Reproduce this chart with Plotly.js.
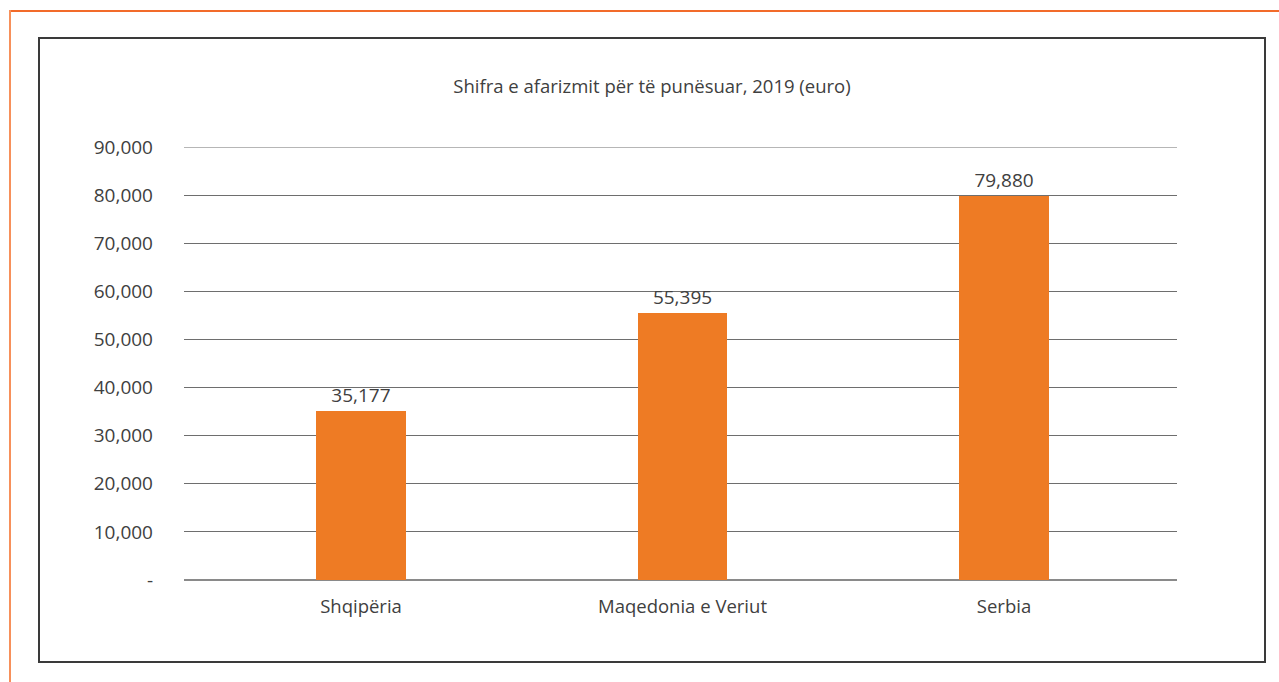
<!DOCTYPE html>
<html>
<head>
<meta charset="utf-8">
<script src="https://cdn.plot.ly/plotly-3.0.1.min.js"></script>
<style>
  html, body { margin: 0; padding: 0; background: #fff; }
  #wrap { position: relative; width: 1279px; height: 682px; overflow: hidden; }
  #chart { position: absolute; left: 0; top: 0; width: 1279px; height: 682px; }
  .ol-top { position: absolute; left: 9px; top: 10px; width: 1270px; height: 2px; background: #F26B2A; }
  .ol-left { position: absolute; left: 9px; top: 10px; width: 2px; height: 672px; background: #F7905A; }
  .box { position: absolute; left: 38px; top: 37px; width: 1224px; height: 622px; border: 2px solid #3a3a3a; }
</style>
</head>
<body>
<div id="wrap">
  <div class="ol-top"></div>
  <div class="ol-left"></div>
  <div class="box"></div>
  <div id="chart"></div>
</div>
<script>
const categories = ["Shqipëria", "Maqedonia e Veriut", "Serbia"];
const values = [35177, 55395, 79880];
const valueLabels = ["35,177", "55,395", "79,880"];
const yTickVals = [0, 10000, 20000, 30000, 40000, 50000, 60000, 70000, 80000, 90000];
const yTickText = ["-", "10,000", "20,000", "30,000", "40,000", "50,000", "60,000", "70,000", "80,000", "90,000"];
const chartTitle = "Shifra e afarizmit për të punësuar, 2019 (euro)";

const FONT = "Open Sans, Noto Sans, sans-serif";
const yMax = yTickVals[yTickVals.length - 1];

const trace = {
  type: "bar",
  x: [0, 1, 2],
  y: values,
  width: 0.277,
  marker: { color: "#EE7B24" },
  text: valueLabels,
  textposition: "outside",
  cliponaxis: false,
  textfont: { family: FONT, size: 19, color: "#404040" },
  hoverinfo: "skip"
};

const layout = {
  width: 1279,
  height: 682,
  paper_bgcolor: "rgba(0,0,0,0)",
  plot_bgcolor: "rgba(0,0,0,0)",
  margin: { l: 184, r: 102, t: 147, b: 102, pad: 0 },
  showlegend: false,
  font: { family: FONT, color: "#404040", size: 18 },
  title: {
    text: chartTitle,
    font: { family: FONT, size: 18.5, color: "#404040" },
    xref: "container", x: 652 / 1279, xanchor: "center",
    yref: "container", y: 1 - 87 / 682, yanchor: "middle"
  },
  xaxis: {
    range: [-0.5505, 2.538],
    tickvals: [0, 1, 2],
    ticktext: categories,
    showgrid: false,
    zeroline: false,
    showline: false,
    ticks: "",
    ticklabelstandoff: 13,
    tickfont: { size: 18.5, color: "#404040" },
    fixedrange: true
  },
  yaxis: {
    range: [0, yMax],
    tickvals: yTickVals,
    ticktext: yTickText,
    showgrid: true,
    gridcolor: "#6e6e6e",
    gridwidth: 1,
    zeroline: true,
    zerolinecolor: "#8a8a8a",
    zerolinewidth: 2,
    showline: false,
    ticks: "",
    ticklabelstandoff: 30,
    tickfont: { size: 19, color: "#404040" },
    fixedrange: true
  },
  shapes: [{
    type: "line", xref: "paper", yref: "y",
    x0: 0, x1: 1, y0: yMax, y1: yMax,
    line: { color: "#6e6e6e", width: 1 },
    layer: "below"
  }],
  bargap: 0
};

Plotly.newPlot("chart", [trace], layout, { displayModeBar: false, staticPlot: true });
</script>
</body>
</html>
